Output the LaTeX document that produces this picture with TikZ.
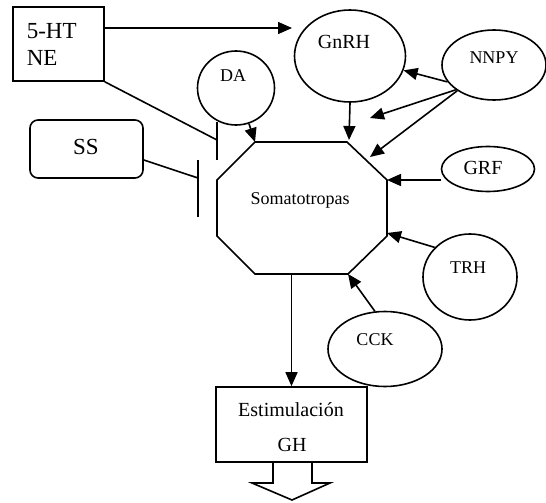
\documentclass[tikz,border=0pt]{standalone}
\usepackage{fontspec}
\setmainfont{Liberation Serif}
\usetikzlibrary{shapes.geometric,arrows.meta}
\begin{document}
\begin{tikzpicture}[x=1pt,y=-1pt,
  line width=1.6pt,
  arr/.style={-{Triangle[length=14pt,width=12pt]}},
  oval/.style={draw,ellipse,inner sep=0pt},
  lbl/.style={inner sep=0pt},
  f22/.style={font=\fontsize{23}{27}\selectfont},
  f19/.style={font=\fontsize{20}{23}\selectfont},
  f17/.style={font=\fontsize{18}{21}\selectfont}]
\useasboundingbox (0,0) rectangle (546,503);
% boxes
\node[draw,minimum width=91pt,minimum height=74pt,inner sep=0pt] (ht) at (58.5,44) {};
\node[lbl,f22,anchor=west] (httxt1) at (26,31) {5-HT};
\node[lbl,f22,anchor=west] (httxt2) at (26,58) {NE};
\node[draw,rounded corners=8pt,minimum width=113pt,minimum height=58pt,inner sep=0pt] (ss) at (86.5,149) {};
\node[lbl,f22] (sstxt) at (86,147) {SS};
% ellipses
\node[oval,minimum width=77pt,minimum height=74pt] (da) at (236,88) {};
\node[lbl,f17] (datxt) at (233,76) {DA};
\node[oval,minimum width=111pt,minimum height=92pt] (gnrh) at (350,56) {};
\node[lbl,f19] (gnrhtxt) at (344,42) {GnRH};
\node[oval,minimum width=104pt,minimum height=70pt] (nnpy) at (494,65) {};
\node[lbl,f17] (nnpytxt) at (494,58) {NNPY};
\node[oval,minimum width=93pt,minimum height=45pt] (grf) at (488,169) {};
\node[lbl,f19] (grftxt) at (483,168) {GRF};
\node[oval,minimum width=94pt,minimum height=86pt] (trh) at (470,277) {};
\node[lbl,f17] (trhtxt) at (468,268) {TRH};
\node[oval,minimum width=114pt,minimum height=75pt] (cck) at (385,349) {};
\node[lbl,f17] (ccktxt) at (375,340) {CCK};
% octagon
\coordinate (v1) at (255,142);
\coordinate (v2) at (347,142);
\coordinate (v3) at (387,180);
\coordinate (v4) at (387,236);
\coordinate (v5) at (348,274);
\coordinate (v6) at (255,274);
\coordinate (v7) at (217,236);
\coordinate (v8) at (217,180);
\draw (v1) -- (v2) -- (v3) -- (v4) -- (v5) -- (v6) -- (v7) -- (v8) -- cycle;
\node[lbl,f17] (soma) at (300,200) {Somatotropas};
% output box
\node[draw,minimum width=151pt,minimum height=75pt,inner sep=0pt] (gh) at (291.5,424.5) {};
\node[lbl,f19] (ghtxt1) at (291,410) {Estimulación};
\node[lbl,f19] (ghtxt2) at (292,445) {GH};
\draw[line join=miter] (273,462) -- (273,483) -- (252,483) -- (292,500) -- (330,483) -- (312,483) -- (312,462);
% inhibition bars
\coordinate (b1) at (217,140);
\coordinate (b1t) at (217,122);
\coordinate (b1b) at (217,160);
\coordinate (b2) at (198,178);
\coordinate (b2t) at (198,160);
\coordinate (b2b) at (198,217);
\draw (ht.south east) -- (b1);
\draw (b1t) -- (b1b);
\draw (ss.east |- 0,160) -- (b2);
\draw (b2t) -- (b2b);
% stimulation arrows
\coordinate (gin) at (292,28);
\draw[arr] (ht.east |- gin) -- (gin);
\draw[arr] (da.-70) -- (v1);
\draw[arr] (gnrh.south) -- (349,140);
\coordinate (free) at (370,118);
\coordinate (diag) at (370,157);
\draw[arr] (nnpy.200) -- (gnrh.-15);
\draw[arr] (nnpy.213) -- (free);
\draw[arr] (nnpy.215) -- (diag);
\draw[arr] (grf.west |- v3) -- (v3);
\coordinate (v4a) at (387,233);
\draw[arr] (trh.140) -- (v4a);
\draw[arr] (cck.105) -- (v5);
\draw[arr] (v6 -| gh.north) -- (gh.north);
\end{tikzpicture}
\end{document}
